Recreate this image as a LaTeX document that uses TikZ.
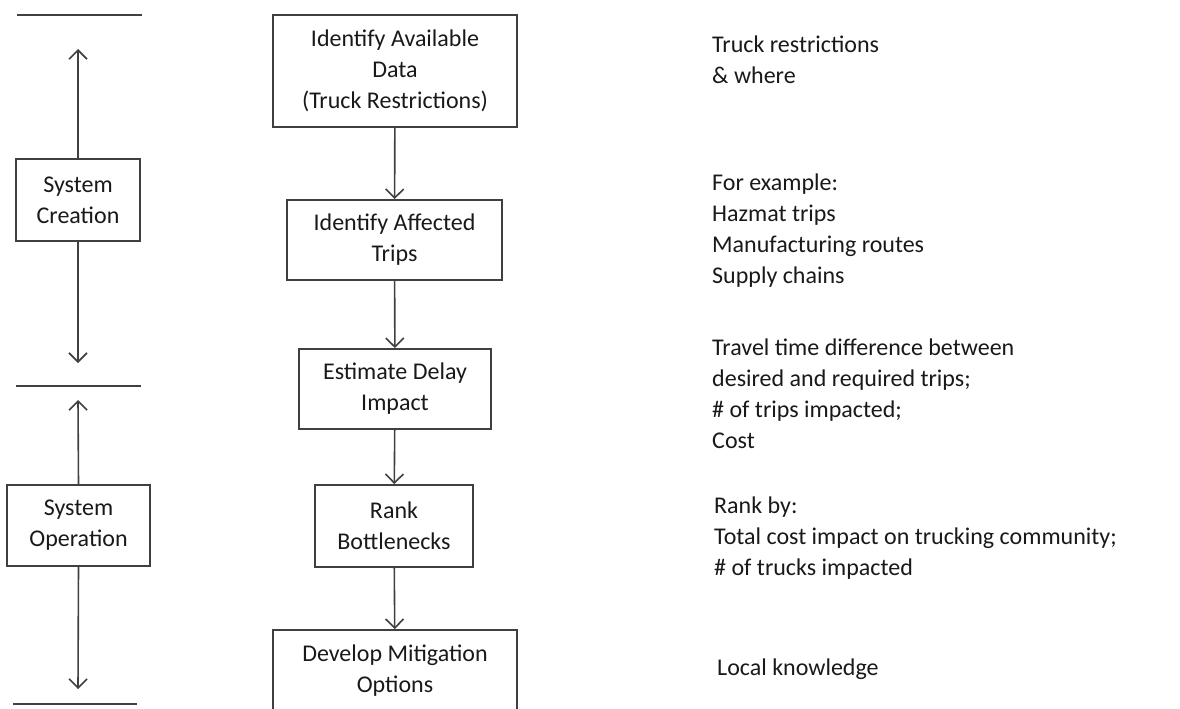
\documentclass[tikz,border=0pt]{standalone}
\usepackage{fontspec}
\setmainfont{Carlito}
\usetikzlibrary{arrows.meta}
\begin{document}
\begin{tikzpicture}[x=1pt,y=-1pt,
  every node/.style={font=\fontsize{24}{31}\selectfont, text=black!90},
  box/.style={draw=black!75, line width=1.8pt, align=center, inner sep=0pt},
  link/.style={draw=black!75, line width=1.6pt, -{Straight Barb[length=9pt,width=18pt,line width=1.6pt]}},
  sep/.style={draw=black!75, line width=1.8pt},
  note/.style={align=left, anchor=base west, inner sep=0pt}]
\useasboundingbox (0,0) rectangle (1180,709);
\clip (0,0) rectangle (1180,709);
% left column
\coordinate (l1a) at (17,15);  \coordinate (l1b) at (142,15);
\coordinate (l2a) at (16,386); \coordinate (l2b) at (141,386);
\coordinate (l3a) at (13,704); \coordinate (l3b) at (137,704);
\draw[sep] (l1a) -- (l1b);
\draw[sep] (l2a) -- (l2b);
\draw[sep] (l3a) -- (l3b);
\node[box, minimum width=124, minimum height=82] (sc) at (78,200) {System\\Creation};
\node[box, minimum width=143, minimum height=81] (so) at (78.5,525.5) {System\\Operation};
\coordinate (t1) at (78,49);
\coordinate (t2) at (78,363);
\coordinate (t3) at (78,400);
\coordinate (t4) at (78,689);
\draw[link] (sc.north) -- (t1);
\draw[link] (sc.south) -- (t2);
\draw[link] (so.north) -- (t3);
\draw[link] (so.south) -- (t4);
% center column
\node[box, minimum width=244, minimum height=112] (b1) at (395,71) {Identify Available\\Data\\(Truck Restrictions)};
\node[box, minimum width=215, minimum height=80] (b2) at (394.5,240) {Identify Affected\\Trips};
\node[box, minimum width=192, minimum height=80] (b3) at (395,389) {Estimate Delay\\Impact};
\node[box, minimum width=158, minimum height=82] (b4) at (394,526) {Rank\\Bottlenecks};
\node[box, minimum width=244, minimum height=82] (b5) at (395,671) {Develop Mitigation\\Options};
\draw[link] (b1) -- (b2);
\draw[link] (b2) -- (b3);
\draw[link] (b3) -- (b4);
\draw[link] (b4) -- (b5);
% right notes (base anchor = baseline of last line)
\node[note] (n1) at (712,83) {Truck restrictions\\\& where};
\node[note] (n2) at (712,283) {For example:\\Hazmat trips\\Manufacturing routes\\Supply chains};
\node[note] (n3) at (712,448) {Travel time difference between\\desired and required trips;\\\# of trips impacted;\\Cost};
\node[note] (n4) at (714,575) {Rank by:\\Total cost impact on trucking community;\\\# of trucks impacted};
\node[note] (n5) at (717,675) {Local knowledge};
\end{tikzpicture}
\end{document}
